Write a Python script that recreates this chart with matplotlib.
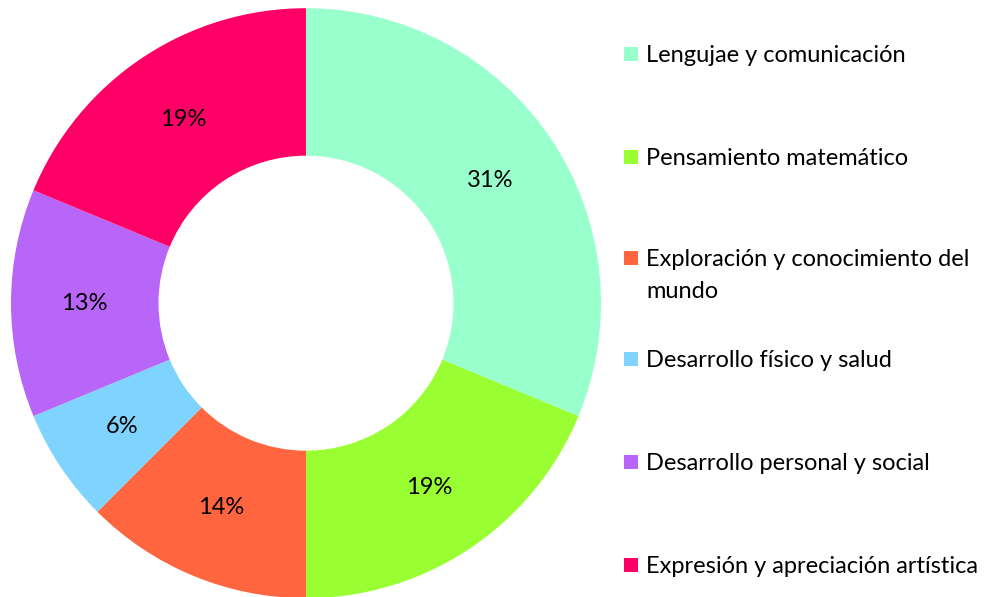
import matplotlib
matplotlib.use("Agg")
import matplotlib.pyplot as plt
from matplotlib.patches import Rectangle

categories = [
    "Lengujae y comunicación",
    "Pensamiento matemático",
    "Exploración y conocimiento del\nmundo",
    "Desarrollo físico y salud",
    "Desarrollo personal y social",
    "Expresión y apreciación artística",
]
values = [5, 3, 2, 1, 2, 3]
pct_labels = ["31%", "19%", "14%", "6%", "13%", "19%"]
colors = ["#99FFCC", "#99FF33", "#FF6640", "#7FD3FF", "#B866F7", "#FF0066"]

plt.rcParams['font.family'] = ['Lato', 'DejaVu Sans']

fig = plt.figure(figsize=(10, 5.97), dpi=100)
ax = fig.add_axes([0.011, -0.002, 0.59, 0.59 * 1000 / 597])
wedges, texts = ax.pie(values, colors=colors, startangle=90, counterclock=False,
                       radius=1.0, wedgeprops=dict(width=0.5, linewidth=0),
                       labels=pct_labels, labeldistance=0.75,
                       textprops=dict(fontsize=17, color='black', ha='center', va='center'))
ax.set_xlim(-1, 1)
ax.set_ylim(-1, 1)
ax.set_aspect('equal')
ax.axis('off')

# manual legend
ys = [54, 157, 258, 359, 462, 565]
for cat, col, y in zip(categories, colors, ys):
    fy = 1 - y / 597
    fig.patches.append(Rectangle((624 / 1000, fy - 7 / 597), 14 / 1000, 14 / 597,
                                 transform=fig.transFigure, facecolor=col, edgecolor='none'))
    for i, line in enumerate(cat.split("\n")):
        fig.text(646 / 1000, 1 - (y + 8 + 32 * i) / 597, line, fontsize=17,
                 va='baseline', ha='left')

fig.savefig("out.png", dpi=100)
